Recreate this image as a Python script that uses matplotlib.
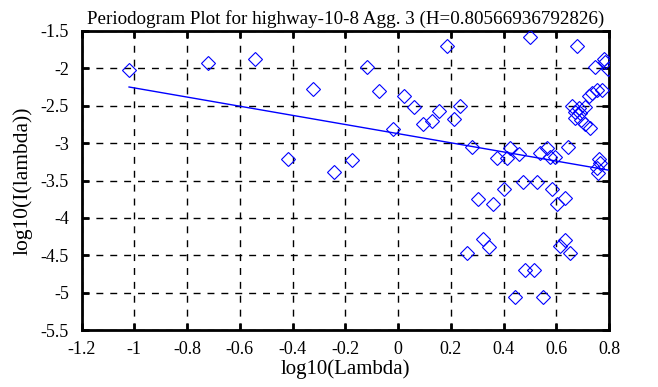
import numpy as np
import matplotlib
matplotlib.use("Agg")
import matplotlib.pyplot as plt

plt.rcParams['font.family'] = ['Liberation Serif', 'DejaVu Serif']

H = 0.80566936792826
title = "Periodogram Plot for highway-10-8 Agg. 3 (H=%s)" % repr(H)

# log10(Lambda), log10(I(lambda))
log_lambda = [
    -1.020, -0.719, -0.543, -0.321, -0.116, -0.071, -0.418, -0.241, -0.175,
    0.186, -0.019, 0.024, 0.060, 0.096, 0.129, 0.155, 0.211, 0.235, 0.280,
    0.502, 0.679, 0.375, 0.413, 0.426, 0.457, 0.540, 0.565, 0.578, 0.597,
    0.645, 0.474, 0.527, 0.400, 0.584, 0.303, 0.360, 0.603, 0.633, 0.324,
    0.346, 0.262, 0.634, 0.614, 0.654, 0.480, 0.514, 0.442, 0.550,
    0.780, 0.786, 0.748, 0.797, 0.774, 0.755, 0.736, 0.723, 0.660, 0.685,
    0.710, 0.672, 0.691, 0.670, 0.695, 0.708, 0.728, 0.761, 0.767, 0.755,
    0.759,
]
log_I = [
    -2.021, -1.932, -1.874, -2.279, -1.981, -2.298, -3.211, -3.381, -3.225,
    -1.697, -2.806, -2.369, -2.516, -2.743, -2.699, -2.566, -2.672, -2.503,
    -3.051, -1.580, -1.701, -3.202, -3.202, -3.068, -3.144, -3.135, -3.068,
    -3.180, -3.189, -3.050, -3.515, -3.515, -3.616, -3.616, -3.746, -3.813,
    -3.813, -3.740, -4.285, -4.384, -4.472, -4.290, -4.370, -4.472, -4.695,
    -4.695, -5.052, -5.052,
    -1.874, -1.914, -1.985, -2.012, -2.289, -2.289, -2.333, -2.369, -2.499,
    -2.533, -2.520, -2.579, -2.592, -2.670, -2.686, -2.743, -2.800, -3.211,
    -3.269, -3.336, -3.394,
]

# fitted line: slope = 1 - 2H, intercept
fit_slope = 1 - 2 * H
fit_intercept = -2.873

xticks = [-1.2, -1, -0.8, -0.6, -0.4, -0.2, 0, 0.2, 0.4, 0.6, 0.8]
xtick_labels = ["-1.2", "-1", "-0.8", "-0.6", "-0.4", "-0.2", "0", "0.2", "0.4", "0.6", "0.8"]
yticks = [-5.5, -5, -4.5, -4, -3.5, -3, -2.5, -2, -1.5]
ytick_labels = ["-5.5", "-5", "-4.5", "-4", "-3.5", "-3", "-2.5", "-2", "-1.5"]

fig = plt.figure(figsize=(6.58, 3.87), dpi=100)
ax = fig.add_axes([0.124, 0.147, 0.8015, 0.773])

ax.plot(log_lambda, log_I, linestyle='none', marker='D', markersize=7,
        markerfacecolor='none', markeredgecolor='blue', markeredgewidth=0.8, zorder=3)

xfit = np.array([min(log_lambda), max(log_lambda)])
ax.plot(xfit, fit_slope * xfit + fit_intercept, color='blue', linewidth=1.0, zorder=3)

ax.set_xlim(-1.2, 0.8)
ax.set_ylim(-5.5, -1.5)
ax.set_xticks(xticks)
ax.set_xticklabels(xtick_labels)
ax.set_yticks(yticks)
ax.set_yticklabels(ytick_labels)

ax.grid(True, color='black', linestyle=(0, (5, 5)), linewidth=1.0)
ax.tick_params(direction='in', length=5, width=2, top=True, right=True,
               labelsize=13)
ax.tick_params(axis='x', pad=8)
ax.tick_params(axis='y', pad=9)
for s in ax.spines.values():
    s.set_linewidth(2)

ax.set_xlabel("log10(Lambda)", fontsize=15, labelpad=1)
ax.set_ylabel("log10(I(lambda))", fontsize=15.5, labelpad=6)
ax.set_title(title, fontsize=13.7, pad=5)

fig.savefig("out.png", dpi=100)
